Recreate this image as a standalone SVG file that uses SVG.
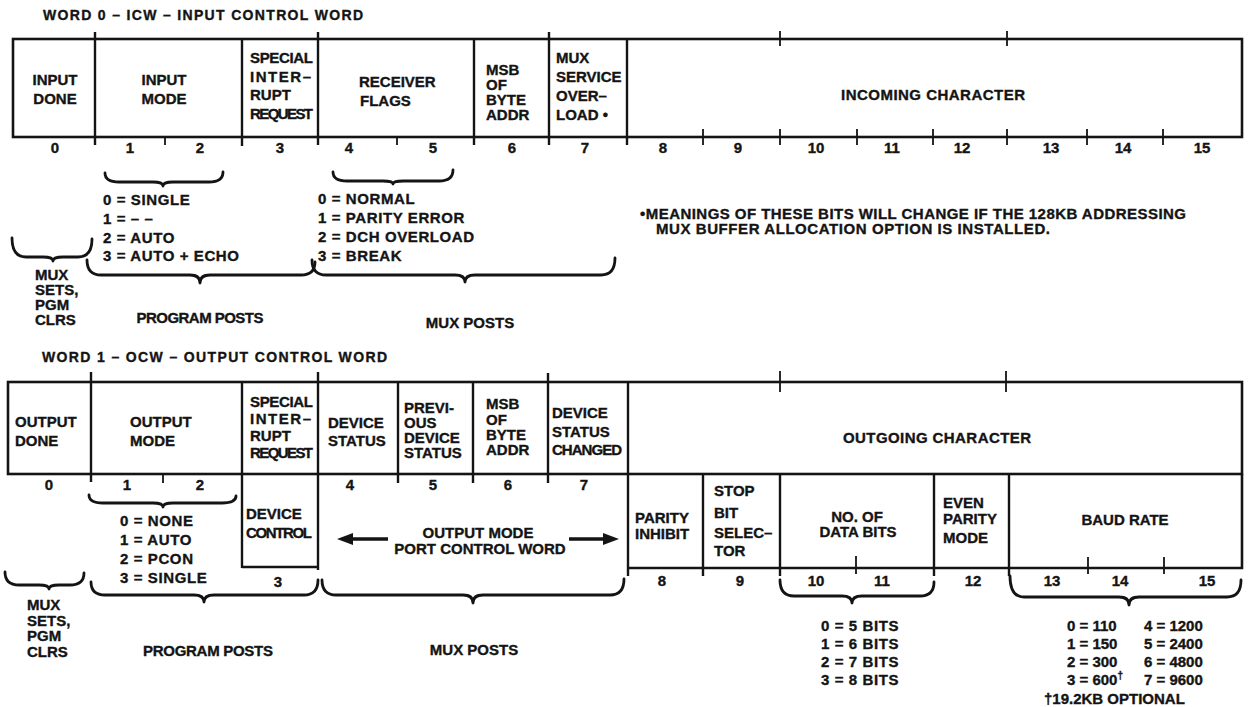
<svg xmlns="http://www.w3.org/2000/svg" width="1248" height="707" viewBox="0 0 1248 707">
<style>
.bx{fill:none;stroke:#141414;stroke-width:2.6}
.ln{fill:none;stroke:#141414;stroke-width:2.4}
.tk{fill:none;stroke:#141414;stroke-width:1.8}
.br{fill:none;stroke:#141414;stroke-width:2.8;stroke-linecap:round;stroke-linejoin:round}
.ar{fill:none;stroke:#141414;stroke-width:3.4}
.ah{fill:#141414}
text{font-family:"Liberation Sans",Arial,Helvetica,sans-serif;font-weight:700;font-size:15px;fill:#141414;stroke:#141414;stroke-width:0.35}
.m{text-anchor:middle}
.ls{letter-spacing:0.6px}
.ttl{font-size:14px}
.sup{font-size:10px}
</style>
<rect width="1248" height="707" fill="#ffffff"/>

<!-- ===== WORD 0 ===== -->
<g id="word0-title"><text class="ttl" x="43" y="20" textLength="320">WORD 0 – ICW – INPUT CONTROL WORD</text></g>
<g id="word0-frame">
<rect class="bx" x="13" y="39" width="1229" height="98"/>
<path class="ln" d="M95 32V145 M242 39V146 M318 32V145 M474 39V145 M549 32V145 M627 39V145"/>
<path class="tk" d="M165 137V145 M397 137V145 M703 129V145 M780 31V46 M780 129V145 M857 129V145 M933 129V145 M1007 31V46 M1007 129V145 M1087 129V145 M1163 129V145"/>
</g>
<g id="word0-bits">
<text class="m" x="55" y="153">0</text>
<text class="m" x="130" y="153">1</text>
<text class="m" x="200" y="153">2</text>
<text class="m" x="280" y="153">3</text>
<text class="m" x="349" y="153">4</text>
<text class="m" x="433" y="153">5</text>
<text class="m" x="512" y="153">6</text>
<text class="m" x="585" y="153">7</text>
<text class="m" x="663" y="153">8</text>
<text class="m" x="738" y="153">9</text>
<text class="m" x="816" y="153">10</text>
<text class="m" x="892" y="153">11</text>
<text class="m" x="962" y="153">12</text>
<text class="m" x="1051" y="153">13</text>
<text class="m" x="1123" y="153">14</text>
<text class="m" x="1202" y="153">15</text>
</g>
<g id="w0-input-done"><text class="m" x="55" y="85">INPUT</text><text class="m" x="55" y="104">DONE</text></g>
<g id="w0-input-mode"><text class="m" x="164" y="85">INPUT</text><text class="m" x="164" y="104">MODE</text></g>
<g id="w0-special"><text x="250" y="63" textLength="63">SPECIAL</text><text x="250" y="82" textLength="61">INTER–</text><text x="250" y="100">RUPT</text><text x="250" y="119" textLength="63">REQUEST</text></g>
<g id="w0-receiver"><text x="359" y="87">RECEIVER</text><text x="360" y="106">FLAGS</text></g>
<g id="w0-msb"><text x="486" y="75">MSB</text><text x="486" y="90">OF</text><text x="486" y="105">BYTE</text><text x="486" y="120">ADDR</text></g>
<g id="w0-mux-service"><text x="556" y="63">MUX</text><text x="556" y="82">SERVICE</text><text x="556" y="101">OVER–</text><text x="556" y="120">LOAD •</text></g>
<g id="w0-incoming"><text class="m" x="933" y="100" textLength="184">INCOMING CHARACTER</text></g>

<g id="w0-input-mode-values">
<text class="ls" x="103" y="205">0 = SINGLE</text>
<text class="ls" x="103" y="224">1 = – –</text>
<text class="ls" x="103" y="243">2 = AUTO</text>
<text class="ls" x="103" y="261">3 = AUTO + ECHO</text>
</g>
<g id="w0-receiver-values">
<text class="ls" x="318" y="204">0 = NORMAL</text>
<text class="ls" x="318" y="223">1 = PARITY ERROR</text>
<text class="ls" x="318" y="242">2 = DCH OVERLOAD</text>
<text class="ls" x="318" y="261">3 = BREAK</text>
</g>
<g id="w0-mux-sets"><text x="35" y="280">MUX</text><text x="35" y="295">SETS,</text><text x="35" y="310">PGM</text><text x="35" y="325">CLRS</text></g>
<g id="w0-program-posts"><text class="m" x="200" y="323" textLength="127">PROGRAM POSTS</text></g>
<g id="w0-mux-posts"><text class="m" x="470" y="328">MUX POSTS</text></g>
<g id="footnote">
<text x="640" y="219" textLength="546">•MEANINGS OF THESE BITS WILL CHANGE IF THE 128KB ADDRESSING</text>
<text x="656" y="234" textLength="394">MUX BUFFER ALLOCATION OPTION IS INSTALLED.</text>
</g>

<!-- ===== WORD 1 ===== -->
<g id="word1-title"><text class="ttl" x="42" y="362" textLength="345">WORD 1 – OCW – OUTPUT CONTROL WORD</text></g>
<g id="word1-frame">
<rect class="bx" x="8" y="382" width="1234" height="92"/>
<path class="ln" d="M91 372V482 M242 382V568 M318 372V570 M398 382V483 M473 382V483 M548 373V483 M628 382V576"/>
<path class="bx" d="M242 567H318 M628 568H1242V474"/>
<path class="ln" d="M703 474V576 M780 474V576 M934 474V576 M1009 474V576"/>
<path class="tk" d="M163 474V483 M780 371V392 M1006 371V392 M856 556V574 M1088 557V574 M1164 557V574"/>
</g>
<g id="word1-bits">
<text class="m" x="49" y="490">0</text>
<text class="m" x="127" y="490">1</text>
<text class="m" x="200" y="490">2</text>
<text class="m" x="350" y="490">4</text>
<text class="m" x="433" y="490">5</text>
<text class="m" x="508" y="490">6</text>
<text class="m" x="584" y="490">7</text>
<text class="m" x="278" y="587">3</text>
<text class="m" x="662" y="586">8</text>
<text class="m" x="740" y="586">9</text>
<text class="m" x="816" y="586">10</text>
<text class="m" x="882" y="586">11</text>
<text class="m" x="973" y="586">12</text>
<text class="m" x="1052" y="586">13</text>
<text class="m" x="1120" y="586">14</text>
<text class="m" x="1207" y="586">15</text>
</g>
<g id="w1-output-done"><text x="15" y="427">OUTPUT</text><text x="15" y="446">DONE</text></g>
<g id="w1-output-mode"><text x="130" y="427">OUTPUT</text><text x="130" y="446">MODE</text></g>
<g id="w1-special"><text x="250" y="407" textLength="63">SPECIAL</text><text x="250" y="424" textLength="61">INTER–</text><text x="250" y="441">RUPT</text><text x="250" y="458" textLength="63">REQUEST</text></g>
<g id="w1-device-status"><text x="328" y="428">DEVICE</text><text x="328" y="446">STATUS</text></g>
<g id="w1-previous"><text x="404" y="413">PREVI-</text><text x="404" y="428">OUS</text><text x="404" y="443">DEVICE</text><text x="404" y="458">STATUS</text></g>
<g id="w1-msb"><text x="486" y="409">MSB</text><text x="486" y="425">OF</text><text x="486" y="440">BYTE</text><text x="486" y="455">ADDR</text></g>
<g id="w1-status-changed"><text x="552" y="418">DEVICE</text><text x="552" y="437">STATUS</text><text x="552" y="455" textLength="70">CHANGED</text></g>
<g id="w1-outgoing"><text class="m" x="937" y="443" textLength="188">OUTGOING CHARACTER</text></g>
<g id="w1-device-control"><text x="246" y="519">DEVICE</text><text x="246" y="538" textLength="66">CONTROL</text></g>
<g id="w1-port-control"><text class="m" x="478" y="538">OUTPUT MODE</text><text class="m" x="480" y="554">PORT CONTROL WORD</text></g>
<g id="w1-parity-inhibit"><text x="635" y="523">PARITY</text><text x="635" y="539">INHIBIT</text></g>
<g id="w1-stop-bit"><text x="714" y="496">STOP</text><text x="714" y="518">BIT</text><text x="714" y="538">SELEC–</text><text x="714" y="556">TOR</text></g>
<g id="w1-data-bits"><text class="m" x="857" y="522">NO. OF</text><text class="m" x="858" y="537">DATA BITS</text></g>
<g id="w1-even-parity"><text x="943" y="508">EVEN</text><text x="943" y="524">PARITY</text><text x="943" y="543">MODE</text></g>
<g id="w1-baud-rate"><text class="m" x="1125" y="525">BAUD RATE</text></g>

<g id="w1-output-mode-values">
<text class="ls" x="120" y="526">0 = NONE</text>
<text class="ls" x="120" y="545">1 = AUTO</text>
<text class="ls" x="120" y="564">2 = PCON</text>
<text class="ls" x="120" y="583">3 = SINGLE</text>
</g>
<g id="w1-mux-sets"><text x="27" y="610">MUX</text><text x="27" y="626">SETS,</text><text x="27" y="641">PGM</text><text x="27" y="657">CLRS</text></g>
<g id="w1-program-posts"><text class="m" x="208" y="656" textLength="130">PROGRAM POSTS</text></g>
<g id="w1-mux-posts"><text class="m" x="474" y="655">MUX POSTS</text></g>
<g id="w1-data-bits-values">
<text class="ls" x="821" y="631">0 = 5 BITS</text>
<text class="ls" x="821" y="649">1 = 6 BITS</text>
<text class="ls" x="821" y="667">2 = 7 BITS</text>
<text class="ls" x="821" y="685">3 = 8 BITS</text>
</g>
<g id="w1-baud-values">
<text x="1067" y="631">0 = 110</text><text x="1144" y="631">4 = 1200</text>
<text x="1067" y="649">1 = 150</text><text x="1144" y="649">5 = 2400</text>
<text x="1067" y="667">2 = 300</text><text x="1144" y="667">6 = 4800</text>
<text x="1067" y="685">3 = 600<tspan class="sup" dy="-6">†</tspan></text><text x="1144" y="685">7 = 9600</text>
<text x="1044" y="704">†19.2KB OPTIONAL</text>
</g>

<!-- ===== CONNECTORS (braces, arrows) ===== -->
<g id="connectors">
<path class="br" d="M105 173Q105 182 119 182L153 182Q163 182 163 186Q163 182 173 182L209 182Q223 182 223 172"/>
<path class="br" d="M12 238Q12 257 26 257L43 257Q53 257 53 261Q53 257 63 257L78 257Q92 257 92 239"/>
<path class="br" d="M87 260Q87 275 101 275L190 275Q200 275 200 283Q200 275 210 275L301 275Q315 275 315 262"/>
<path class="br" d="M333 172Q333 181 347 181L383 181Q393 181 393 184Q393 181 403 181L439 181Q453 181 453 170"/>
<path class="br" d="M312 260Q312 275 326 275L455 275Q465 275 465 282Q465 275 475 275L601 275Q615 275 615 258"/>
<path class="br" d="M89 495Q89 503 103 503L153 503Q163 503 163 507Q163 503 173 503L222 503Q236 503 236 496"/>
<path class="br" d="M5 572Q5 585 19 585L39 585Q49 585 49 589Q49 585 59 585L70 585Q84 585 84 573"/>
<path class="br" d="M91 582Q91 595 105 595L194 595Q204 595 204 602Q204 595 214 595L304 595Q318 595 318 580"/>
<path class="br" d="M322 580Q322 595 336 595L463 595Q473 595 473 603Q473 595 483 595L610 595Q624 595 624 579"/>
<path class="br" d="M780 580Q780 596 794 596L842 596Q852 596 852 603Q852 596 862 596L920 596Q934 596 934 582"/>
<path class="br" d="M1010 576Q1010 597 1024 597L1119 597Q1129 597 1129 605Q1129 597 1139 597L1227 597Q1241 597 1241 580"/>
<path class="ar" d="M388 539H350 M569 539H606"/>
<polygon class="ah" points="337,539 353,533 353,545"/>
<polygon class="ah" points="619,539 603,533 603,545"/>
</g>
</svg>
